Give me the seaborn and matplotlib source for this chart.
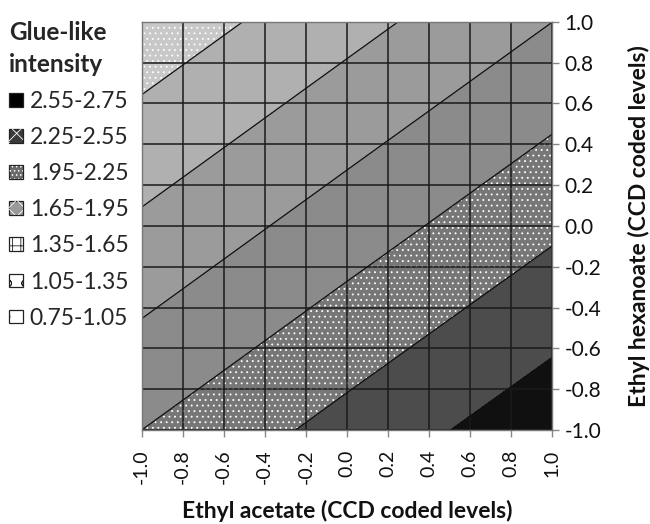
import numpy as np
import matplotlib
matplotlib.use("Agg")
import matplotlib.pyplot as plt
from matplotlib.patches import Patch
from matplotlib.legend_handler import HandlerTuple
import seaborn as sns

# ---- data ----
ethyl_acetate = [-1.0, 0.0, 1.0]          # x coded levels
ethyl_hexanoate = [-1.0, 0.0, 1.0]        # y coded levels
# glue-like intensity, rows = ethyl hexanoate (-1, 0, 1), cols = ethyl acetate (-1, 0, 1)
intensity_row_ym1 = [1.95, 2.35, 2.745]
intensity_row_y0 = [1.40, 1.80, 2.195]
intensity_row_yp1 = [0.855, 1.25, 1.648]
band_edges = [0.75, 1.05, 1.35, 1.65, 1.95, 2.25, 2.55, 2.75]
band_labels = ["0.75-1.05", "1.05-1.35", "1.35-1.65", "1.65-1.95",
               "1.95-2.25", "2.25-2.55", "2.55-2.75"]
tick_values = [-1.0, -0.8, -0.6, -0.4, -0.2, 0.0, 0.2, 0.4, 0.6, 0.8, 1.0]
tick_labels = ["-1.0", "-0.8", "-0.6", "-0.4", "-0.2", "0.0", "0.2", "0.4", "0.6", "0.8", "1.0"]

# ---- style ----
sns.set_theme(style="white")
plt.rcParams["font.family"] = ["Lato", "DejaVu Sans"]
plt.rcParams["axes.unicode_minus"] = False
plt.rcParams["hatch.color"] = "#8a8a8a"
plt.rcParams["hatch.linewidth"] = 0.6

band_colors = ["#c8c8c8", "#b0b0b0", "#9b9b9b", "#8b8b8b", "#777777", "#4c4c4c", "#101010"]
band_hatches = ["...", None, None, None, "...", None, None]

fig = plt.figure(figsize=(6.5, 5.24), dpi=100)
ax = fig.add_axes([0.218, 0.1794, 0.631, 0.7792])

X, Y = np.meshgrid(ethyl_acetate, ethyl_hexanoate)
Z = np.array([intensity_row_ym1, intensity_row_y0, intensity_row_yp1])

cf = ax.contourf(X, Y, Z, levels=band_edges, colors=band_colors, hatches=band_hatches, zorder=1)
ax.contour(X, Y, Z, levels=band_edges[1:-1], colors="#111111", linewidths=0.9, zorder=3)

ax.set_xlim(-1, 1)
ax.set_ylim(-1, 1)
ax.set_xticks(tick_values)
ax.set_xticklabels(tick_labels, rotation=90, fontsize=14)
ax.set_yticks(tick_values)
ax.set_yticklabels(tick_labels, fontsize=15)
ax.yaxis.tick_right()
ax.yaxis.set_label_position("right")
ax.tick_params(axis="both", which="major", length=5, width=1, color="#888888",
               direction="out", labelcolor="#111111")
ax.tick_params(axis="x", bottom=True, pad=9)
ax.tick_params(axis="y", right=True, left=False, pad=4)

ax.grid(True, color="#1a1a1a", linewidth=1.1, zorder=2)
ax.set_axisbelow(False)
for s in ax.spines.values():
    s.set_color("#777777")
    s.set_linewidth(1.0)
    s.set_zorder(4)

ax.set_xlabel("Ethyl acetate (CCD coded levels)", fontsize=16.5, fontweight="bold",
              color="#111111", labelpad=11)
ax.set_ylabel("Ethyl hexanoate (CCD coded levels)", fontsize=16.5, fontweight="bold",
              color="#111111", labelpad=19)

# legend markers: (fill, pattern colour, pattern)
legend_face = ["white", "white", "white", "#9a9a9a", "#6a6a6a", "#3a3a3a", "black"]
legend_hcol = ["#222222", "#222222", "#222222", "white", "white", "white", "black"]
legend_hatch = [".", "o", "++", "xx", "....", "xx", None]
handles = []
for lab, fc, hc, h in zip(band_labels, legend_face, legend_hcol, legend_hatch):
    base = Patch(facecolor=fc, edgecolor="#222222", linewidth=0.9)
    pat = Patch(facecolor="none", edgecolor=hc, hatch=h, linewidth=0)
    handles.append(((base, pat), lab))
handles = handles[::-1]
leg = fig.legend([h for h, _ in handles], [l for _, l in handles],
                 handler_map={tuple: HandlerTuple(ndivide=1, pad=0)},
                 loc="upper left", bbox_to_anchor=(0.0, 0.977),
                 frameon=False, fontsize=16.5, title="Glue-like\nintensity",
                 title_fontproperties={"weight": "bold", "size": 17.5},
                 alignment="left", handlelength=0.6, handleheight=0.55,
                 handletextpad=0.3, labelspacing=0.66, borderaxespad=0.2,
                 borderpad=0.2)
leg.get_title().set_linespacing(1.45)

fig.savefig("out.png", dpi=100)
